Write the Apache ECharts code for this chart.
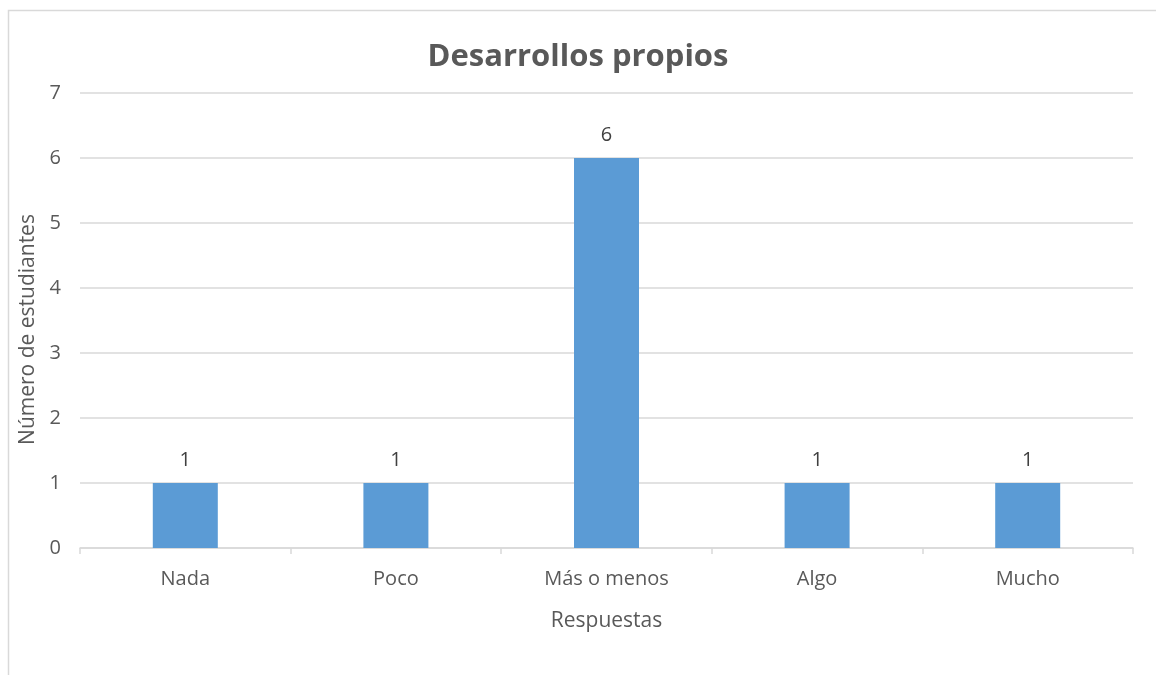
<!DOCTYPE html>
<html><head><meta charset="utf-8">
<script src="https://cdn.jsdelivr.net/npm/echarts@6/dist/echarts.min.js"></script>
<style>html,body{margin:0;padding:0;background:#fff}#c{width:1156px;height:675px}</style>
</head><body><div id="c"></div>
<script>
const categories = ['Nada', 'Poco', 'Más o menos', 'Algo', 'Mucho'];
const values = [1, 1, 6, 1, 1];
const chart = echarts.init(document.getElementById('c'));
const font = '"Open Sans", "Noto Sans", sans-serif';
chart.setOption({
  animation: false,
  graphic: [{
    type: 'polyline', silent: true,
    shape: { points: [[8.5, 680], [8.5, 10.5], [1160, 10.5]] },
    style: { stroke: '#d9d9d9', lineWidth: 1.5, fill: null }
  }],
  title: {
    text: 'Desarrollos propios', left: 'center', top: 37,
    textStyle: { fontFamily: font, fontSize: 31, fontWeight: 'bold', color: '#595959' }
  },
  grid: { left: 80, right: 23, top: 93, bottom: 127 },
  xAxis: {
    type: 'category', data: categories,
    name: 'Respuestas', nameLocation: 'middle', nameGap: 63,
    nameTextStyle: { fontFamily: font, fontSize: 21, color: '#595959' },
    axisLine: { lineStyle: { color: '#d9d9d9', width: 1.5 } },
    axisTick: { show: true, length: 6, lineStyle: { color: '#d9d9d9', width: 1.5 } },
    axisLabel: { fontFamily: font, fontSize: 20, color: '#595959', margin: 21 }
  },
  yAxis: {
    type: 'value', min: 0, max: 7, interval: 1,
    name: 'Número de estudiantes', nameLocation: 'middle', nameGap: 36,
    nameTextStyle: { fontFamily: font, fontSize: 21, color: '#595959', padding: [0, 18, 0, 0] },
    axisLine: { show: false }, axisTick: { show: false },
    axisLabel: { fontFamily: font, fontSize: 20, color: '#595959', margin: 19 },
    splitLine: { lineStyle: { color: '#d9d9d9', width: 1.5 } }
  },
  series: [{
    type: 'bar', data: values, barWidth: 65,
    itemStyle: { color: '#5b9bd5' },
    label: { show: true, position: 'top', distance: 13, fontFamily: font, fontSize: 20, color: '#404040' }
  }]
});
</script></body></html>
